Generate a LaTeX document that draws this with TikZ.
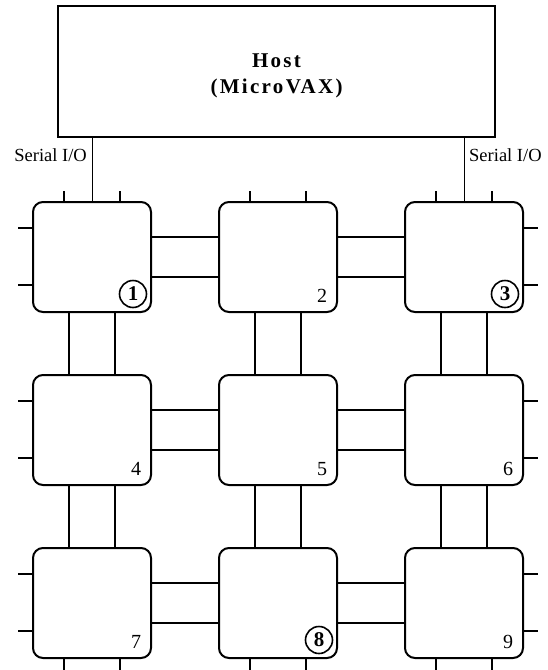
\documentclass[tikz,border=0pt]{standalone}
\usepackage{fontspec}
\setmainfont{Liberation Serif}
\usetikzlibrary{positioning}
\tikzset{
  pe/.style={draw, line width=2pt, rounded corners=10pt, minimum width=118pt, minimum height=110pt, inner sep=0pt},
  link/.style={line width=1.6pt},
  tick/.style={line width=1.5pt},
  num/.style={font=\fontsize{20}{20}\selectfont, inner sep=0pt},
  cnum/.style={draw, circle, line width=1.6pt, minimum size=27pt, inner sep=0pt, font=\fontsize{21}{21}\selectfont\bfseries}
}

\begin{document}
\begin{tikzpicture}[x=1pt,y=-1pt]
\useasboundingbox (0,0) rectangle (548,670);

\node[draw, line width=1.8pt, minimum width=437pt, minimum height=131pt] (host) at (276.5,71.5) {};
\node[align=center, font=\fontsize{21}{26}\selectfont\bfseries\addfontfeature{LetterSpace=11}] (hostname) at ([yshift=-4pt]host.center) {Host\\(MicroVAX)};

% processing elements
\node[pe] (p1) at (92,257) {};
\node[pe] (p2) [right=66pt of p1] {};
\node[pe] (p3) [right=66pt of p2] {};
\node[pe] (p4) [below=61pt of p1] {};
\node[pe] (p5) [right=66pt of p4] {};
\node[pe] (p6) [right=66pt of p5] {};
\node[pe] (p7) [below=61pt of p4] {};
\node[pe] (p8) [right=66pt of p7] {};
\node[pe] (p9) [right=66pt of p8] {};

% serial lines to the host
\draw[line width=1pt] (p1.north |- host.south) -- (p1.north);
\draw[line width=1pt] (p3.north |- host.south) -- (p3.north);
\node[anchor=east, font=\fontsize{18.5}{18.5}\selectfont, inner sep=0pt] (sio1) at (87,155) {Serial I/O};
\node[anchor=west, font=\fontsize{18.5}{18.5}\selectfont, inner sep=0pt] (sio3) at (469,155) {Serial I/O};

% links
\foreach \a/\b in {p1/p2,p2/p3,p4/p5,p5/p6,p7/p8,p8/p9}
  \draw[link] ([yshift=20pt]\a.east) -- ([yshift=20pt]\b.west)
              ([yshift=-20pt]\a.east) -- ([yshift=-20pt]\b.west);
\foreach \a/\b in {p1/p4,p2/p5,p3/p6,p4/p7,p5/p8,p6/p9}
  \draw[link] ([xshift=-23pt]\a.south) -- ([xshift=-23pt]\b.north)
              ([xshift=23pt]\a.south) -- ([xshift=23pt]\b.north);

% open ends
\foreach \p in {p1,p2,p3}
  \draw[tick] ([xshift=-28pt]\p.north) -- +(0,-10) ([xshift=28pt]\p.north) -- +(0,-10);
\foreach \p in {p7,p8,p9}
  \draw[tick] ([xshift=-28pt]\p.south) -- +(0,16) ([xshift=28pt]\p.south) -- +(0,16);
\foreach \p in {p1,p4,p7}
  \draw[tick] ([yshift=29pt]\p.west) -- +(-14,0) ([yshift=-28pt]\p.west) -- +(-14,0);
\foreach \p in {p3,p6,p9}
  \draw[tick] ([yshift=29pt]\p.east) -- +(14,0) ([yshift=-28pt]\p.east) -- +(14,0);

% numbers
\node[cnum] (n1) at ([xshift=-19pt,yshift=19pt]p1.south east) {1};
\node[num]  (n2) at ([xshift=-16pt,yshift=17pt]p2.south east) {2};
\node[cnum] (n3) at ([xshift=-19pt,yshift=19pt]p3.south east) {3};
\node[num]  (n4) at ([xshift=-16pt,yshift=17pt]p4.south east) {4};
\node[num]  (n5) at ([xshift=-16pt,yshift=17pt]p5.south east) {5};
\node[num]  (n6) at ([xshift=-16pt,yshift=17pt]p6.south east) {6};
\node[num]  (n7) at ([xshift=-16pt,yshift=17pt]p7.south east) {7};
\node[cnum] (n8) at ([xshift=-19pt,yshift=19pt]p8.south east) {8};
\node[num]  (n9) at ([xshift=-16pt,yshift=17pt]p9.south east) {9};
\end{tikzpicture}
\end{document}
